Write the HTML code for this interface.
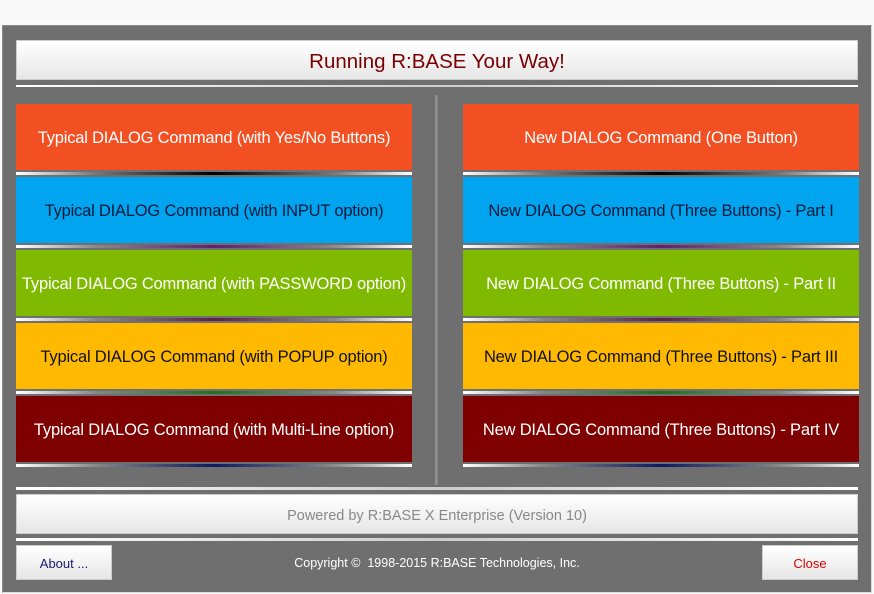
<!DOCTYPE html>
<html><head><style>
body{margin:0;width:874px;height:594px;background:#f9f9f9;position:relative;overflow:hidden;font-family:"Liberation Sans","DejaVu Sans",sans-serif}
.p{position:absolute;left:2px;top:25px;width:868px;height:566px;background:#6f6f6f;border:1px solid #8a8a8a;border-right-color:#ddd;border-bottom-color:#ddd}
.a{position:absolute;box-sizing:border-box}
.bar{background:linear-gradient(#fff,#e6e6e6);border:1px solid #ccc;text-align:center}
.btn{display:flex;align-items:center;justify-content:center;font-size:16.5px;letter-spacing:-0.2px;padding-top:2px}
.l{height:3px}
</style></head><body>
<div class="p"></div>
<div class="a bar" style="left:16px;top:40px;width:842px;height:40px;line-height:42px;font-size:20.5px;color:#7a0000">Running R:BASE Your Way!</div>
<div class="a" style="left:16px;top:85px;width:842px;height:2px;background:linear-gradient(90deg,#fff,#ccc 50%,#fff)"></div>
<div class="a" style="left:435px;top:95px;width:3px;height:390px;background:linear-gradient(90deg,#888,#999,#777)"></div>

<div class="a btn" style="left:16px;top:104px;width:396px;height:66px;background:#f25022;color:#fff">Typical DIALOG Command (with Yes/No Buttons)</div>
<div class="a l" style="left:16px;top:172px;width:396px;background:linear-gradient(90deg,#fff,#777 20%,#000 50%,#777 80%,#fff)"></div>
<div class="a btn" style="left:16px;top:177px;width:396px;height:66px;background:#00a4ef;color:#0a1a3a">Typical DIALOG Command (with INPUT option)</div>
<div class="a l" style="left:16px;top:245px;width:396px;background:linear-gradient(90deg,#fff,#888 20%,#602070 50%,#888 80%,#fff)"></div>
<div class="a btn" style="left:16px;top:250px;width:396px;height:66px;background:#7fba00;color:#fff">Typical DIALOG Command (with PASSWORD option)</div>
<div class="a l" style="left:16px;top:318px;width:396px;background:linear-gradient(90deg,#fff,#888 20%,#602040 50%,#888 80%,#fff)"></div>
<div class="a btn" style="left:16px;top:323px;width:396px;height:66px;background:#ffb900;color:#111">Typical DIALOG Command (with POPUP option)</div>
<div class="a l" style="left:16px;top:391px;width:396px;background:linear-gradient(90deg,#fff,#888 20%,#207020 50%,#888 80%,#fff)"></div>
<div class="a btn" style="left:16px;top:396px;width:396px;height:66px;background:#7f0000;color:#fff">Typical DIALOG Command (with Multi-Line option)</div>
<div class="a l" style="left:16px;top:464px;width:396px;background:linear-gradient(90deg,#fff,#888 20%,#101860 50%,#888 80%,#fff)"></div>

<div class="a btn" style="left:463px;top:104px;width:396px;height:66px;background:#f25022;color:#fff">New DIALOG Command (One Button)</div>
<div class="a l" style="left:463px;top:172px;width:396px;background:linear-gradient(90deg,#fff,#777 20%,#000 50%,#777 80%,#fff)"></div>
<div class="a btn" style="left:463px;top:177px;width:396px;height:66px;background:#00a4ef;color:#0a1a3a">New DIALOG Command (Three Buttons) - Part I</div>
<div class="a l" style="left:463px;top:245px;width:396px;background:linear-gradient(90deg,#fff,#888 20%,#602070 50%,#888 80%,#fff)"></div>
<div class="a btn" style="left:463px;top:250px;width:396px;height:66px;background:#7fba00;color:#fff">New DIALOG Command (Three Buttons) - Part II</div>
<div class="a l" style="left:463px;top:318px;width:396px;background:linear-gradient(90deg,#fff,#888 20%,#602040 50%,#888 80%,#fff)"></div>
<div class="a btn" style="left:463px;top:323px;width:396px;height:66px;background:#ffb900;color:#111">New DIALOG Command (Three Buttons) - Part III</div>
<div class="a l" style="left:463px;top:391px;width:396px;background:linear-gradient(90deg,#fff,#888 20%,#207020 50%,#888 80%,#fff)"></div>
<div class="a btn" style="left:463px;top:396px;width:396px;height:66px;background:#7f0000;color:#fff">New DIALOG Command (Three Buttons) - Part IV</div>
<div class="a l" style="left:463px;top:464px;width:396px;background:linear-gradient(90deg,#fff,#888 20%,#101860 50%,#888 80%,#fff)"></div>

<div class="a" style="left:16px;top:487px;width:842px;height:3px;background:linear-gradient(90deg,#fff,#ccc 50%,#fff)"></div>
<div class="a bar" style="left:16px;top:494px;width:842px;height:40px;line-height:42px;font-size:14.5px;color:#888">Powered by R:BASE X Enterprise (Version 10)</div>
<div class="a" style="left:16px;top:538px;width:842px;height:3px;background:linear-gradient(90deg,#fff,#ccc 50%,#fff)"></div>
<div class="a bar" style="left:16px;top:545px;width:96px;height:35px;line-height:36px;font-size:13px;color:#1a1a70">About ...</div>
<div class="a" style="left:0;top:556px;width:874px;text-align:center;font-size:12.5px;color:#fff">Copyright ©&nbsp; 1998-2015 R:BASE Technologies, Inc.</div>
<div class="a bar" style="left:762px;top:545px;width:96px;height:35px;line-height:36px;font-size:13px;color:#e00000">Close</div>
</body></html>
